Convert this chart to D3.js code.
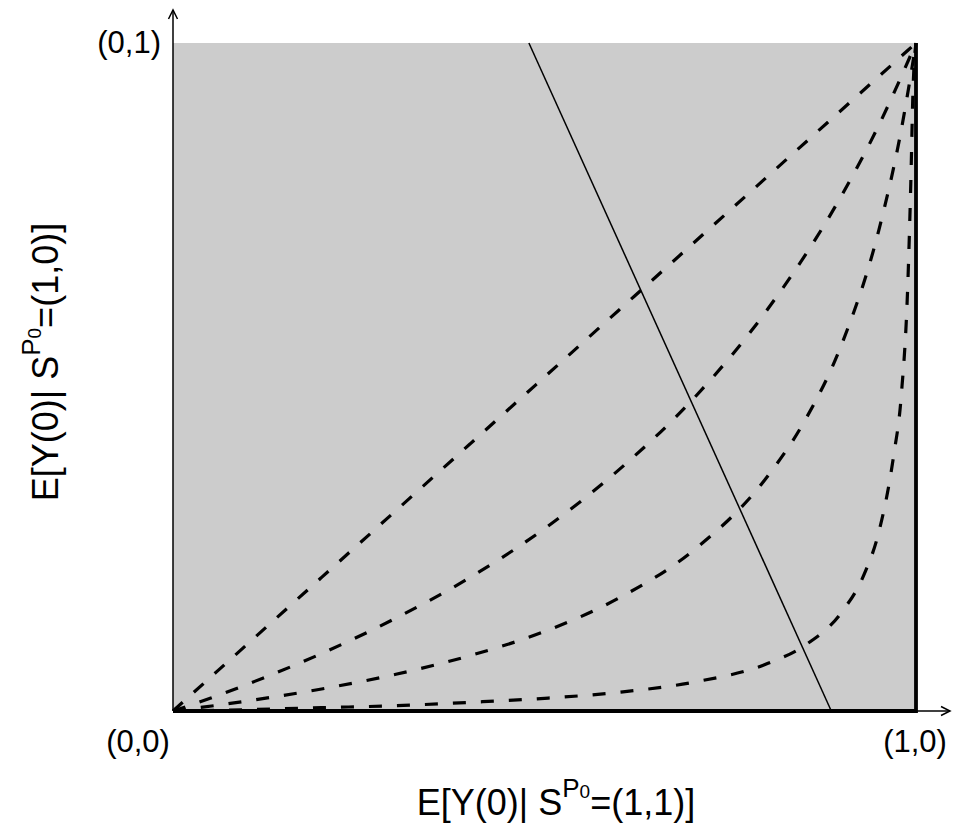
<!DOCTYPE html>
<html>
<head>
<meta charset="utf-8">
<script src="https://cdn.jsdelivr.net/npm/d3@7"></script>
<style>
  html, body { margin: 0; padding: 0; background: #ffffff; }
  svg { display: block; }
  text { font-family: "Liberation Sans", Arial, Helvetica, sans-serif; fill: #000; }
</style>
</head>
<body>
<svg id="chart" width="954" height="828"></svg>
<script>
// ---- data ----
const cornerLabels = [
  { label: "(0,0)", x: 0, y: 0 },
  { label: "(1,0)", x: 1, y: 0 },
  { label: "(0,1)", x: 0, y: 1 }
];
const curve1X = [0, 0.2, 0.4, 0.6, 0.8, 1];
const curve1Y = [0, 0.2, 0.4, 0.6, 0.8, 1];
const curve2X = [0, 0.05, 0.1, 0.2, 0.3, 0.4, 0.5, 0.6, 0.7, 0.8, 0.9, 0.95, 1];
const curve2Y = [0, 0.019, 0.040, 0.086, 0.139, 0.200, 0.273, 0.361, 0.467, 0.601, 0.772, 0.877, 1];
const curve3X = [0, 0.1, 0.2, 0.3, 0.4, 0.5, 0.6, 0.7, 0.8, 0.85, 0.9, 0.95, 0.98, 1];
const curve3Y = [0, 0.015, 0.033, 0.055, 0.083, 0.119, 0.169, 0.240, 0.351, 0.434, 0.549, 0.720, 0.869, 1];
const curve4X = [0, 0.1, 0.2, 0.3, 0.4, 0.5, 0.6, 0.7, 0.8, 0.85, 0.9, 0.93, 0.95, 0.97, 0.98, 0.989, 0.993, 0.996, 1];
const curve4Y = [0, 0.002, 0.005, 0.008, 0.013, 0.019, 0.028, 0.043, 0.071, 0.098, 0.148, 0.204, 0.268, 0.383, 0.470, 0.640, 0.790, 0.930, 1];
const solidLineX = [0.479, 0.886];
const solidLineY = [1, 0];

const curvesX = [curve1X, curve2X, curve3X, curve4X];
const curvesY = [curve1Y, curve2Y, curve3Y, curve4Y];

// ---- layout ----
const svg = d3.select("#chart");
const x = d3.scaleLinear().domain([0, 1]).range([173, 916]);
const y = d3.scaleLinear().domain([0, 1]).range([711, 43]);

// grey region
svg.append("rect")
  .attr("x", x(0)).attr("y", y(1))
  .attr("width", x(1) - x(0)).attr("height", y(0) - y(1))
  .attr("fill", "#cccccc");

// dashed curves
const line = d3.line()
  .x(d => x(d[0])).y(d => y(d[1]))
  .curve(d3.curveMonotoneX);

curvesX.forEach((xs, i) => {
  const pts = xs.map((v, j) => [v, curvesY[i][j]]);
  svg.append("path")
    .attr("d", line(pts))
    .attr("fill", "none")
    .attr("stroke", "#000")
    .attr("stroke-width", 3.2)
    .attr("stroke-dasharray", "13,15");
});

// solid line
svg.append("path")
  .attr("d", d3.line().x(d => x(d[0])).y(d => y(d[1]))(solidLineX.map((v, j) => [v, solidLineY[j]])))
  .attr("fill", "none")
  .attr("stroke", "#000")
  .attr("stroke-width", 1.5);

// axes (thin with open arrowheads)
const axisG = svg.append("g").attr("stroke", "#000").attr("fill", "none").attr("stroke-width", 1.5);
axisG.append("line").attr("x1", x(0)).attr("y1", y(0)).attr("x2", x(0)).attr("y2", 10);
axisG.append("path").attr("d", `M${x(0) - 4.5},19 L${x(0)},10 L${x(0) + 4.5},19`);
axisG.append("line").attr("x1", x(0)).attr("y1", y(0)).attr("x2", 950).attr("y2", y(0));
axisG.append("path").attr("d", `M941,${y(0) - 4.5} L950,${y(0)} L941,${y(0) + 4.5}`);

// thick boundary lines (bottom and right)
svg.append("path")
  .attr("d", `M${x(0)},${y(0)} L${x(1)},${y(0)} L${x(1)},${y(1)}`)
  .attr("fill", "none")
  .attr("stroke", "#000")
  .attr("stroke-width", 3.8)
  .attr("stroke-linejoin", "miter");

// corner labels
svg.append("text").attr("x", 138).attr("y", 752).attr("text-anchor", "middle")
  .attr("font-size", 31).text(cornerLabels[0].label);
svg.append("text").attr("x", 915).attr("y", 752).attr("text-anchor", "middle")
  .attr("font-size", 31).text(cornerLabels[1].label);
svg.append("text").attr("x", 161).attr("y", 53).attr("text-anchor", "end")
  .attr("font-size", 31).text(cornerLabels[2].label);

// axis titles
function title(sel, part1, sup, sub, part2) {
  sel.append("tspan").text(part1);
  sel.append("tspan").attr("font-size", 26).attr("dy", -18).text(sup);
  sel.append("tspan").attr("font-size", 19).attr("dy", 1).text(sub);
  sel.append("tspan").attr("dy", 17).text(part2);
}
const xt = svg.append("text").attr("x", 556).attr("y", 815).attr("text-anchor", "middle")
  .attr("font-size", 36);
title(xt, "E[Y(0)| S", "P", "0", "=(1,1)]");

const yt = svg.append("text").attr("transform", "translate(58,362) rotate(-90)")
  .attr("text-anchor", "middle").attr("font-size", 36);
title(yt, "E[Y(0)| S", "P", "0", "=(1,0)]");
</script>
</body>
</html>
